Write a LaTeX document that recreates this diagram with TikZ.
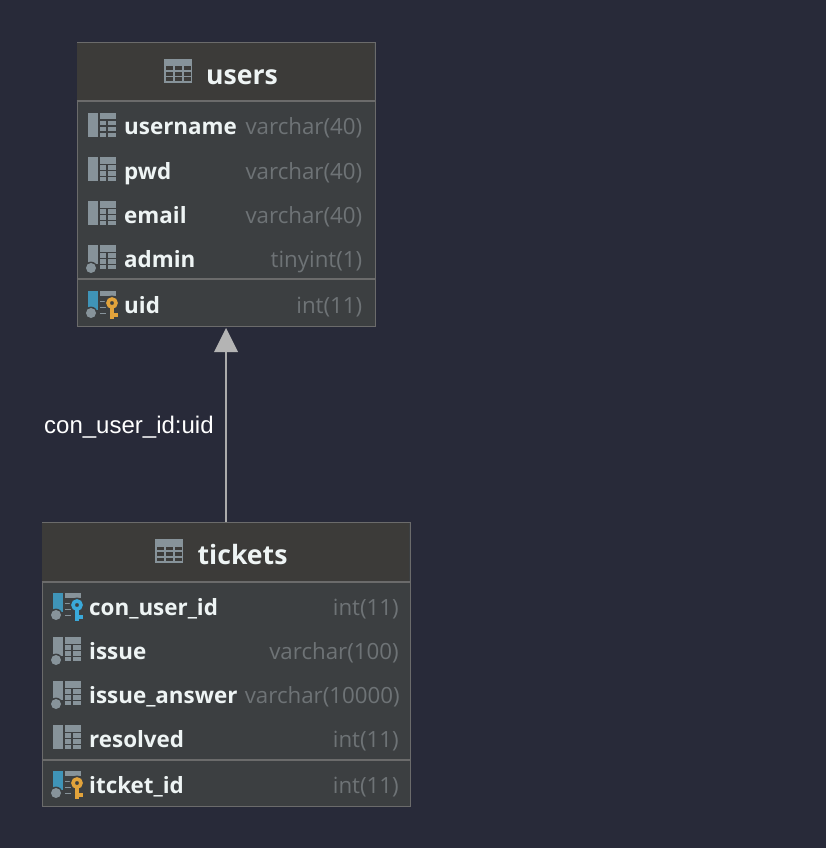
\documentclass[tikz,border=0pt]{standalone}
\usepackage{fontspec}
\setmainfont{Open Sans}
\newfontfamily\labelfont{Liberation Sans}
\definecolor{bgc}{HTML}{282A39}
\definecolor{headc}{HTML}{3C3B39}
\definecolor{bodyc}{HTML}{3C3F41}
\definecolor{edgec}{HTML}{6B6B6B}
\definecolor{namec}{HTML}{EEF4F4}
\definecolor{typec}{HTML}{6E7376}
\definecolor{iconc}{HTML}{87939A}
\definecolor{pkc}{HTML}{3F94B8}
\definecolor{goldc}{HTML}{E2A33B}
\definecolor{bluek}{HTML}{3AA9DA}
\definecolor{linec}{HTML}{ABABAB}
\tikzset{
  tablebox/.style={draw=edgec,line width=1.5pt,fill=bodyc,inner sep=0pt,minimum width=#1,minimum height=284pt,anchor=north west},
  headbox/.style={fill=headc,inner sep=0pt,minimum width=#1,minimum height=58pt,anchor=north west},
  sepline/.style={draw=edgec,line width=2pt},
  titletxt/.style={font=\fontsize{26.6}{30}\selectfont\bfseries,text=namec,inner sep=0pt,anchor=base west},
  colname/.style={font=\fontsize{22.4}{26}\selectfont\bfseries,text=namec,inner sep=0pt,anchor=base west},
  coltype/.style={font=\fontsize{22.3}{26}\selectfont,text=typec,inner sep=0pt,anchor=base east},
  linktxt/.style={font=\labelfont\fontsize{24}{28}\selectfont,text=white,inner sep=0pt,anchor=base west},
  reltip/.style={fill=linec!105!black,draw=none}
}
\newcommand{\titleicon}[2]{%
  \fill[iconc] (#1,#2) rectangle ++(28,24);
  \foreach \dx in {1.5,10.5,19.5}\foreach \dy in {7.5,13,18.5}
    \fill[headc] (#1+\dx,#2+\dy) rectangle ++(7.5,3.8);
}
\newcommand{\gridpart}[2]{%
  \fill[iconc] (#1+12,#2) rectangle ++(16,24);
  \fill[bodyc] (#1+12,#2+6.5) rectangle ++(16,1.8);
  \fill[bodyc] (#1+12,#2+12.5) rectangle ++(16,1.8);
  \fill[bodyc] (#1+12,#2+18.5) rectangle ++(16,1.8);
  \fill[bodyc] (#1+17.5,#2+6.5) rectangle ++(2,17.5);
}
\newcommand{\colicon}[2]{%
  \fill[iconc] (#1,#2) rectangle ++(10,24);
  \gridpart{#1}{#2}
}
\newcommand{\nnicon}[2]{%
  \fill[iconc] (#1,#2) rectangle ++(10,19);
  \gridpart{#1}{#2}
  \fill[bodyc] (#1+3,#2+23) circle (6.4);
  \fill[iconc] (#1+3,#2+23) circle (5);
}
\newcommand{\keyicon}[4]{%
  \fill[#3] (#1,#2) rectangle ++(10,19);
  \fill[bodyc] (#1+3,#2+22) circle (6.4);
  \fill[iconc] (#1+3,#2+22) circle (5);
  \fill[iconc] (#1+12,#2) rectangle ++(16,4.5);
  \fill[iconc] (#1+12,#2+9.5) rectangle ++(6,1.8);
  \fill[iconc] (#1+12,#2+15.5) rectangle ++(6,1.8);
  \fill[iconc] (#1+12,#2+21.5) rectangle ++(6,1.8);
  \fill[bodyc] (#1+24,#2+12) circle (7.5);
  \draw[#4,line width=3.6pt] (#1+24,#2+12) circle (4);
  \fill[#4] (#1+22,#2+17) rectangle ++(4,11);
  \fill[#4] (#1+25.5,#2+22) rectangle ++(4.5,3.5);
}
\begin{document}
\begin{tikzpicture}[x=1pt,y=-1pt]
\useasboundingbox (0,0) rectangle (826,848);
\fill[bgc] (0,0) rectangle (826,848);

% users
\node[tablebox=298pt] (users) at (76.5,41.7) {};
\node[headbox=297pt] (usershead) at (77.2,42.4) {};
\draw[sepline] (76.5,101.5) -- (374.5,101.5);
\draw[sepline] (76.5,279.3) -- (374.5,279.3);
\titleicon{164}{59}
\node[titletxt] (usersname) at (206,85) {users};
\colicon{88}{113}
\node[colname] (u1) at (124,135) {username};
\node[coltype] (u1t) at (362.5,135) {varchar(40)};
\colicon{88}{157}
\node[colname] (u2) at (124,179) {pwd};
\node[coltype] (u2t) at (362.5,179) {varchar(40)};
\colicon{88}{201}
\node[colname] (u3) at (124,223) {email};
\node[coltype] (u3t) at (362.5,223) {varchar(40)};
\nnicon{88}{245}
\node[colname] (u4) at (124,267) {admin};
\node[coltype] (u4t) at (362.5,267) {tinyint(1)};
\keyicon{88}{291}{pkc}{goldc}
\node[colname] (u5) at (124,313) {uid};
\node[coltype] (u5t) at (362.5,313) {int(11)};

% tickets
\node[tablebox=368pt] (tickets) at (41.5,521.7) {};
\node[headbox=367pt] (ticketshead) at (42.2,522.4) {};
\draw[sepline] (41.5,581.5) -- (409.5,581.5);
\draw[sepline] (41.5,759.8) -- (409.5,759.8);
\titleicon{155}{539}
\node[titletxt] (ticketsname) at (197.5,564.5) {tickets};
\keyicon{53}{593}{pkc}{bluek}
\node[colname] (t1) at (89,615) {con\_user\_id};
\node[coltype] (t1t) at (399,615) {int(11)};
\nnicon{53}{637}
\node[colname] (t2) at (89,659) {issue};
\node[coltype] (t2t) at (399,659) {varchar(100)};
\nnicon{53}{681}
\node[colname] (t3) at (89,703) {issue\_answer};
\node[coltype] (t3t) at (400,703) {varchar(10000)};
\colicon{53}{725}
\node[colname] (t4) at (89,747) {resolved};
\node[coltype] (t4t) at (399,747) {int(11)};
\keyicon{53}{771}{pkc}{goldc}
\node[colname] (t5) at (89,793) {itcket\_id};
\node[coltype] (t5t) at (399,793) {int(11)};

% relation
\coordinate (tip) at (226,328);
\coordinate (tipbase) at (226,352);
\draw[linec,line width=2.5pt] (tipbase) -- (tickets.north -| tip);
\fill[reltip] (tip) -- (238,352) -- (214,352) -- cycle;
\node[linktxt] (rel) at (44,433) {con\_user\_id:uid};
\end{tikzpicture}
\end{document}
